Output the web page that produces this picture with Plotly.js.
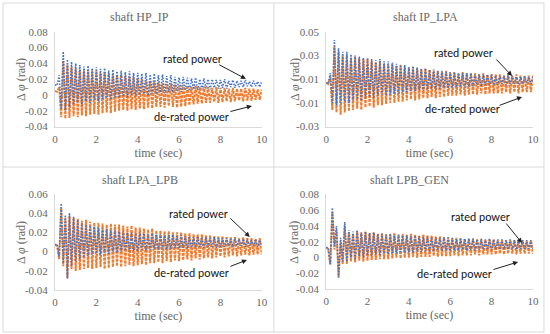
<!DOCTYPE html>
<html><head><meta charset="utf-8">
<script src="https://cdn.plot.ly/plotly-3.0.1.min.js"></script>
<style>html,body{margin:0;padding:0;background:#fff}#chart{width:550px;height:334px}</style>
</head><body><div id="chart"></div>
<script>
// ---- data (milliradians, successive extrema from t = 0 to 10 s) ----
const panelTitles = ['shaft HP_IP', 'shaft IP_LPA', 'shaft LPA_LPB', 'shaft LPB_GEN'];
const seriesNames = ['rated power', 'de-rated power'];
const xTitle = 'time (sec)';
const yTitle = 'Δ <i>φ</i> (rad)';
const timeSpanSec = 10;

const hpip_rated_mrad = [13,12,25,-18,55,-20,45,-15,42,-12,
 40,-10,38,-14,36,-8,37,-10,34,-6,
 35,-8,33,-5,34,-4,31,-6,32,-3,
 30,-4,31,-2,29,-3,30,0,28,-2,
 28,0,27,1,28,-1,26,2,27,1,
 25,3,26,2,24,4,25,3,23,5,
 22,4,23,6,22,5,21,7,22,6,
 20,7,21,8,20,7,20,9,19,8,
 19,9,20,8,18,10,19,9,18,10,
 18,10,19,11,17,10,18,11,17,10,
 17];
const hpip_derated_mrad = [5,4,10,-28,43,-30,38,-29,35,-27,
 33,-28,32,-26,31,-27,30,-25,31,-24,
 30,-25,28,-23,29,-22,27,-23,26,-21,
 25,-20,26,-19,24,-20,23,-18,22,-19,
 21,-17,20,-18,19,-16,18,-17,17,-15,
 16,-15,15,-16,14,-14,15,-15,13,-16,
 12,-15,13,-14,12,-13,11,-12,12,-11,
 10,-11,11,-10,10,-10,9,-9,10,-10,
 9,-9,9,-8,8,-9,9,-8,8,-7,
 8,-8,9,-7,8,-7,8,-6,7,-6,
 7];
const iplpa_rated_mrad = [7,6,15,-10,43,-12,36,-10,33,-9,
 33,-10,31,-8,30,-7,29,-8,28,-6,
 28,-5,27,-6,26,-4,27,-3,25,-4,
 25,-3,24,-2,23,-2,22,-1,22,-1,
 20,0,21,0,20,1,19,0,19,1,
 18,2,18,1,17,2,17,3,16,2,
 16,3,16,3,15,4,15,3,15,4,
 15,4,14,5,14,4,14,5,14,5,
 14,5,13,5,13,6,13,5,13,6,
 13,6,12,6,12,6,12,7,12,6,
 12];
const iplpa_derated_mrad = [7,6,12,-16,37,-18,33,-20,30,-18,
 30,-17,28,-16,29,-15,27,-16,27,-14,
 27,-13,25,-14,24,-12,25,-12,23,-11,
 22,-10,23,-10,21,-9,22,-9,20,-8,
 20,-7,19,-8,19,-7,18,-6,19,-6,
 18,-5,17,-6,17,-5,16,-5,17,-4,
 16,-4,16,-4,15,-3,16,-4,15,-3,
 15,-3,15,-3,14,-2,15,-3,14,-2,
 14,-2,14,-2,14,-2,13,-1,14,-2,
 13,-1,14,-2,13,-1,13,-1,13,-1,
 13];
const lpalpb_rated_mrad = [7,8,-5,50,-12,38,-28,40,-15,36,
 -10,33,-8,30,-6,28,-5,27,-3,26,
 -2,25,-3,24,-1,23,-2,22,0,22,
 -1,21,0,21,1,20,0,20,1,19,
 0,20,2,19,1,18,2,19,3,18,
 2,18,3,17,2,17,3,18,4,16,
 3,17,4,16,3,16,4,15,4,16,
 5,15,4,15,5,14,5,15,4,14,
 5,14,5,14,6,13,5,14,6,13,
 6,13,5,13,6,12,6,13,5,12,
 6];
const lpalpb_derated_mrad = [7,6,-8,45,-15,35,-27,37,-18,35,
 -20,34,-19,32,-18,33,-17,31,-18,30,
 -17,30,-16,29,-18,28,-17,29,-16,28,
 -15,28,-16,27,-15,26,-14,27,-15,25,
 -14,25,-13,24,-14,23,-12,24,-12,22,
 -11,22,-12,21,-10,21,-11,20,-9,20,
 -10,20,-9,19,-8,19,-9,18,-7,18,
 -8,18,-7,17,-6,17,-7,16,-6,16,
 -5,16,-6,15,-5,15,-4,15,-5,14,
 -4,15,-3,14,-4,14,-3,13,-3,14,
 -3];
const lpbgen_rated_mrad = [13,12,-8,63,15,40,-25,25,-5,45,
 -5,35,0,33,-3,35,2,32,0,33,
 3,31,2,32,4,30,3,30,5,29,
 4,30,6,28,5,29,7,28,6,28,
 7,27,6,28,8,27,7,26,8,27,
 7,26,8,26,9,25,8,26,9,25,
 8,25,9,24,9,25,10,24,9,24,
 10,24,9,23,10,24,10,23,10,24,
 10,23,11,23,10,23,11,22,10,23,
 11,22,10,23,11,22,11,22,11,22,
 11];
const lpbgen_derated_mrad = [13,11,-9,58,10,35,-25,20,-8,40,
 -8,32,-5,30,-6,33,-4,31,-5,33,
 -4,31,-3,32,-3,30,-2,31,-2,30,
 -2,30,-1,31,0,29,-1,30,0,29,
 0,30,1,29,0,28,1,29,1,28,
 1,28,2,27,1,27,2,26,2,26,
 2,25,3,25,2,24,3,24,3,24,
 3,24,4,23,3,23,4,23,4,23,
 4,23,4,22,5,22,4,22,5,22,
 5,22,4,21,5,22,5,21,5,22,
 5];

const xTicks = [0, 2, 4, 6, 8, 10];
const yTicks_hpip = [-0.04, -0.02, 0, 0.02, 0.04, 0.06, 0.08];
const yTickText_hpip = ['-0.04', '-0.02', '0', '0.02', '0.04', '0.06', '0.08'];
const yTicks_iplpa = [-0.03, -0.01, 0.01, 0.03, 0.05];
const yTickText_iplpa = ['-0.03', '-0.01', '0.01', '0.03', '0.05'];
const yTicks_lpalpb = [-0.04, -0.02, 0, 0.02, 0.04, 0.06];
const yTickText_lpalpb = ['-0.04', '-0.02', '0', '0.02', '0.04', '0.06'];
const yTicks_lpbgen = [-0.04, -0.02, 0, 0.02, 0.04, 0.06, 0.08];
const yTickText_lpbgen = ['-0.04', '-0.02', '0', '0.02', '0.04', '0.06', '0.08'];

// ---- build ----
const BLUE = '#4472C4', ORANGE = '#ED7D31', GREY = '#666666', LINE = '#d9d9d9';
const SERIF = 'Times New Roman, Liberation Serif, serif';
const SANS = 'Lato, sans-serif';

const panels = [
  {rated: hpip_rated_mrad, derated: hpip_derated_mrad, ticks: yTicks_hpip, text: yTickText_hpip},
  {rated: iplpa_rated_mrad, derated: iplpa_derated_mrad, ticks: yTicks_iplpa, text: yTickText_iplpa},
  {rated: lpalpb_rated_mrad, derated: lpalpb_derated_mrad, ticks: yTicks_lpalpb, text: yTickText_lpalpb},
  {rated: lpbgen_rated_mrad, derated: lpbgen_derated_mrad, ticks: yTicks_lpbgen, text: yTickText_lpbgen}
];
const times = arr => arr.map((_, i) => i * timeSpanSec / (arr.length - 1));
const rad = arr => arr.map(v => v / 1000);

const xDomains = [[0.1, 0.476], [0.593, 0.969], [0.1, 0.476], [0.593, 0.969]];
const yDomains = [[0.621, 0.905], [0.621, 0.905], [0.131, 0.420], [0.134, 0.418]];
const titlePos = [[0.254, 0.949], [0.773, 0.949], [0.254, 0.461], [0.745, 0.461]];
const yTitlePos = [[0.038, 0.763], [0.536, 0.763], [0.038, 0.275], [0.534, 0.275]];

const traces = [];
const layout = {
  width: 550, height: 334, margin: {l: 0, r: 0, t: 0, b: 0},
  paper_bgcolor: '#fff', plot_bgcolor: 'rgba(0,0,0,0)', showlegend: false,
  font: {family: SERIF, color: GREY, size: 11},
  annotations: [], shapes: []
};

panels.forEach((p, i) => {
  const n = i === 0 ? '' : String(i + 1);
  const xa = 'x' + n, ya = 'y' + n;
  traces.push({x: times(p.derated), y: rad(p.derated), xaxis: xa, yaxis: ya, type: 'scatter', mode: 'lines',
    name: seriesNames[1], line: {color: ORANGE, width: 2, dash: '3px,1px'}, hoverinfo: 'skip'});
  traces.push({x: times(p.rated), y: rad(p.rated), xaxis: xa, yaxis: ya, type: 'scatter', mode: 'lines',
    name: seriesNames[0], line: {color: BLUE, width: 1.6, dash: '1.5px,1.5px'}, hoverinfo: 'skip'});
  layout['xaxis' + n] = {domain: xDomains[i], anchor: ya, range: [0, 10], tickvals: xTicks,
    showline: true, linecolor: LINE, linewidth: 1, showgrid: false, zeroline: false, ticks: '',
    tickfont: {family: SERIF, size: 11, color: GREY}, ticklabelstandoff: 2,
    title: {text: xTitle, font: {family: SERIF, size: 12, color: GREY}, standoff: 4}};
  layout['yaxis' + n] = {domain: yDomains[i], anchor: xa, range: [p.ticks[0], p.ticks[p.ticks.length - 1]],
    tickvals: p.ticks, ticktext: p.text,
    showline: true, linecolor: LINE, linewidth: 1, showgrid: false, zeroline: false, ticks: '',
    tickfont: {family: SERIF, size: 11, color: GREY}, ticklabelstandoff: 4};
  layout.annotations.push({xref: 'paper', yref: 'paper', x: titlePos[i][0], y: titlePos[i][1],
    text: panelTitles[i], showarrow: false,
    font: {family: SERIF, size: 12, color: GREY}, xanchor: 'center', yanchor: 'middle'});
  layout.annotations.push({xref: 'paper', yref: 'paper', x: yTitlePos[i][0], y: yTitlePos[i][1],
    text: yTitle, showarrow: false, textangle: -90,
    font: {family: SERIF, size: 12, color: GREY}, xanchor: 'center', yanchor: 'middle'});
});

// label + arrow placements (data coordinates of each panel)
const labelPos = [
  {r: [6.67, 0.0455], rt: [7.87, 0.0392], rh: [9.23, 0.0203], d: [6.62, -0.0277], dt: [8.41, -0.0214], dh: [9.52, -0.0139]},
  {r: [6.62, 0.0321], rt: [8.16, 0.0279], rh: [8.99, 0.0127], d: [6.57, -0.0151], dt: [8.31, -0.0126], dh: [9.47, -0.005]},
  {r: [6.96, 0.039], rt: [8.41, 0.0359], rh: [9.42, 0.0152], d: [6.62, -0.0221], dt: [8.41, -0.0159], dh: [9.28, -0.0086]},
  {r: [7.44, 0.0526], rt: [8.65, 0.045], rh: [9.47, 0.0185], d: [6.23, -0.0207], dt: [8.02, -0.0156], dh: [9.28, -0.0055]}
];
labelPos.forEach((L, i) => {
  const n = i === 0 ? '' : String(i + 1);
  const xr = 'x' + n, yr = 'y' + n;
  [[L.r, L.rt, L.rh, seriesNames[0]], [L.d, L.dt, L.dh, seriesNames[1]]].forEach(([c, t, h, txt]) => {
    layout.annotations.push({xref: xr, yref: yr, x: c[0], y: c[1], text: txt, showarrow: false,
      font: {family: SANS, size: 11, color: '#111'}, xanchor: 'center', yanchor: 'middle'});
    layout.annotations.push({xref: xr, yref: yr, x: h[0], y: h[1], axref: xr, ayref: yr, ax: t[0], ay: t[1],
      text: '', showarrow: true, arrowhead: 2, arrowsize: 1, arrowwidth: 1, arrowcolor: '#222'});
  });
});

// panel frames
layout.shapes.push({type: 'rect', xref: 'paper', yref: 'paper', x0: 0.0055, x1: 0.989, y0: 0.006, y1: 0.991,
  line: {color: LINE, width: 1}});
layout.shapes.push({type: 'line', xref: 'paper', yref: 'paper', x0: 0.498, x1: 0.498, y0: 0.006, y1: 0.991,
  line: {color: LINE, width: 1}});
layout.shapes.push({type: 'line', xref: 'paper', yref: 'paper', x0: 0.0055, x1: 0.989, y0: 0.5, y1: 0.5,
  line: {color: LINE, width: 1}});

Plotly.newPlot('chart', traces, layout, {staticPlot: true, displayModeBar: false});
</script></body></html>
